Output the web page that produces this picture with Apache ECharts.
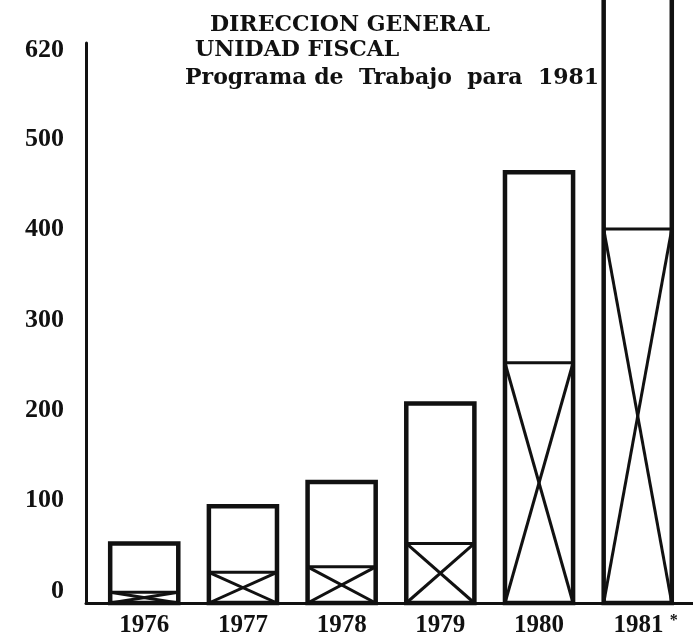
<!DOCTYPE html>
<html>
<head>
<meta charset="utf-8">
<script src="https://cdn.jsdelivr.net/npm/echarts@6/dist/echarts.min.js"></script>
<style>
  html, body { margin: 0; padding: 0; background: #fff; }
  #chart { width: 693px; height: 643px; }
</style>
</head>
<body>
<div id="chart"></div>
<script>
// datos
const years = ['1976', '1977', '1978', '1979', '1980', '1981'];
const totals = [66, 107, 134, 221, 477, 690];   // 1981 sale del marco
const crossed = [12, 34, 40, 66, 266, 414];     // parte con la X
const yTicks = [0, 100, 200, 300, 400, 500, 620];

const chart = echarts.init(document.getElementById('chart'));
const font = '"Liberation Serif", "Times New Roman", serif';
const titleFont = '"DejaVu Serif", "Liberation Serif", serif';
const ink = '#111';

const option = {
  backgroundColor: '#fff',
  animation: false,
  title: [
    { text: 'DIRECCION GENERAL', left: 205, top: 9,
      textStyle: { fontFamily: titleFont, fontSize: 22, fontWeight: 'bold', color: ink } },
    { text: 'UNIDAD FISCAL', left: 190, top: 34,
      textStyle: { fontFamily: titleFont, fontSize: 22, fontWeight: 'bold', color: ink } },
    { text: 'Programa de  Trabajo  para  1981', left: 180, top: 62,
      textStyle: { fontFamily: titleFont, fontSize: 22, fontWeight: 'bold', color: ink } }
  ],
  grid: { left: 86, right: 0, top: 43, bottom: 40 },
  xAxis: {
    type: 'value',
    min: -0.59,
    max: 5.56,
    splitLine: { show: false },
    axisTick: { show: false },
    axisLine: { show: true, onZero: false, lineStyle: { color: ink, width: 3 } },
    axisLabel: {
      customValues: [0, 1, 2, 3, 4, 5],
      margin: 10,
      fontFamily: font,
      fontSize: 25,
      fontWeight: 'bold',
      color: ink,
      formatter: v => {
        const y = years[Math.round(v)];
        return y === '1981' ? '{pad|}' + y + ' {ast|*}' : y;
      },
      rich: {
        pad: { width: 16 },
        ast: { fontFamily: font, fontSize: 16, fontWeight: 'bold', color: ink, verticalAlign: 'top', padding: [0, 0, 8, 0] }
      }
    }
  },
  yAxis: {
    type: 'value',
    min: 0,
    max: 620,
    splitLine: { show: false },
    axisTick: { show: false },
    axisLine: { show: true, onZero: false, lineStyle: { color: ink, width: 3 } },
    axisLabel: {
      customValues: yTicks,
      margin: 22,
      fontFamily: font,
      fontSize: 26,
      fontWeight: 'bold',
      color: ink,
      formatter: v => v === 620 ? '{t|620}' : '{n|' + v + '}',
      rich: {
        n: { fontFamily: font, fontSize: 26, fontWeight: 'bold', color: ink, padding: [0, 0, 24, 0] },
        t: { fontFamily: font, fontSize: 26, fontWeight: 'bold', color: ink, padding: [14, 0, 0, 0] }
      }
    }
  },
  series: [
    {
      type: 'custom',
      clip: false,
      data: years.map((y, i) => [i, totals[i], crossed[i]]),
      renderItem(params, api) {
        const x = api.value(0);
        const base = api.coord([x, 0]);
        const top = api.coord([x, api.value(1)]);
        const mid = api.coord([x, api.value(2)]);
        const w = api.size([0.69, 0])[0];
        const l = base[0] - w / 2, r = base[0] + w / 2;
        const lineStyle = { stroke: ink, lineWidth: 3 };
        return {
          type: 'group',
          children: [
            { type: 'rect', shape: { x: l, y: top[1], width: w, height: base[1] - top[1] },
              style: { fill: '#fff', stroke: ink, lineWidth: 4.5 } },
            { type: 'line', shape: { x1: l, y1: mid[1], x2: r, y2: mid[1] }, style: lineStyle },
            { type: 'line', shape: { x1: l, y1: base[1], x2: r, y2: mid[1] }, style: lineStyle },
            { type: 'line', shape: { x1: r, y1: base[1], x2: l, y2: mid[1] }, style: lineStyle }
          ]
        };
      }
    }
  ]
};

chart.setOption(option);
</script>
</body>
</html>
